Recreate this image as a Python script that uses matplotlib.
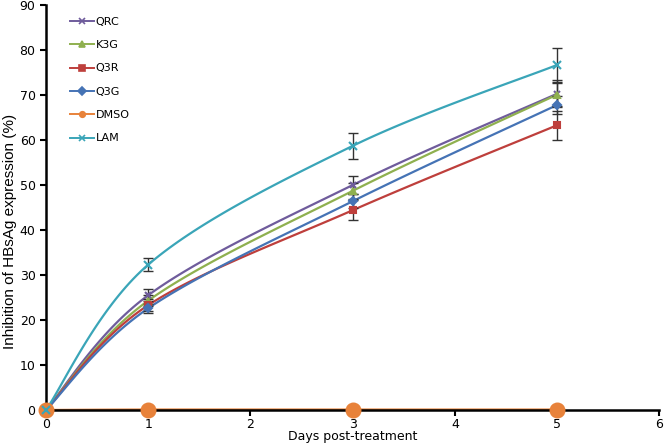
import numpy as np
import matplotlib
matplotlib.use("Agg")
import matplotlib.pyplot as plt

days = [0, 1, 3, 5]
series = ["QRC", "K3G", "Q3R", "Q3G", "DMSO", "LAM"]
values = {
    "QRC":  [0, 25.5, 50.0, 70.3],
    "K3G":  [0, 24.3, 48.7, 70.1],
    "Q3R":  [0, 23.3, 44.4, 63.3],
    "Q3G":  [0, 22.6, 46.4, 67.8],
    "DMSO": [0, 0.1, 0.1, 0.1],
    "LAM":  [0, 32.3, 58.7, 76.7],
}
errors = {
    "QRC":  [0, 1.3, 2.0, 3.0],
    "K3G":  [0, 1.2, 1.8, 2.5],
    "Q3R":  [0, 1.3, 2.2, 3.2],
    "Q3G":  [0, 1.0, 1.6, 2.0],
    "DMSO": [0, 0, 0, 0],
    "LAM":  [0, 1.5, 2.8, 3.8],
}
colors = {"QRC": "#6f5c9c", "K3G": "#8fb04f", "Q3R": "#be3f3c", "Q3G": "#4573b5",
          "DMSO": "#e8823a", "LAM": "#3aa5b8"}
markers = {"QRC": "x", "K3G": "^", "Q3R": "s", "Q3G": "D", "DMSO": "o", "LAM": "x"}
msizes = {"QRC": 5, "K3G": 5, "Q3R": 5, "Q3G": 4, "DMSO": 10, "LAM": 6}


def smooth(x, y, n=40):
    x = np.asarray(x, float); y = np.asarray(y, float)
    px = np.concatenate([[x[0]], x, [x[-1]]])
    py = np.concatenate([[y[0]], y, [y[-1]]])
    xs, ys = [], []
    t = np.linspace(0, 1, n)
    for i in range(1, len(px) - 2):
        p0 = np.array([px[i], py[i]]); p3 = np.array([px[i + 1], py[i + 1]])
        c1 = p0 + (np.array([px[i + 1], py[i + 1]]) - np.array([px[i - 1], py[i - 1]])) / 6
        c2 = p3 - (np.array([px[i + 2], py[i + 2]]) - np.array([px[i], py[i]])) / 6
        b = ((1 - t) ** 3)[:, None] * p0 + (3 * (1 - t) ** 2 * t)[:, None] * c1 \
            + (3 * (1 - t) * t ** 2)[:, None] * c2 + (t ** 3)[:, None] * p3
        xs.extend(b[:, 0]); ys.extend(b[:, 1])
    return np.array(xs), np.array(ys)


fig = plt.figure(figsize=(6.66, 4.43), dpi=100)
ax = fig.add_axes([0.069, 0.0745, 0.921, 0.914])

for s in series:
    c = colors[s]
    sx, sy = smooth(days, values[s])
    ax.plot(sx, sy, color=c, lw=1.6, zorder=2, clip_on=False)
    if s != "DMSO":
        ax.errorbar(days[1:], values[s][1:], yerr=errors[s][1:], fmt="none",
                    ecolor="#333333", elinewidth=1.0, capsize=3.5, capthick=1.0, zorder=3)
    ax.plot(days, values[s], linestyle="none", marker=markers[s], ms=msizes[s],
            color=c, mec=c, mew=1.5, zorder=4, clip_on=False)
    ax.plot([], [], color=c, lw=1.4, marker=markers[s], ms=4, mew=1.2, label=s)

ax.set_xlim(0, 6)
ax.set_ylim(0, 90)
ax.set_xticks(range(0, 7))
ax.set_yticks(range(0, 91, 10))
for sp in ["top", "right"]:
    ax.spines[sp].set_visible(False)
for sp in ["left", "bottom"]:
    ax.spines[sp].set_linewidth(1.8)
ax.tick_params(axis="both", direction="out", length=4, width=1.5, labelsize=9,
               colors="black")
ax.tick_params(axis="x", pad=2)
ax.set_xlabel("Days post-treatment", fontsize=9)
ax.xaxis.set_label_coords(0.5, -0.05)
ax.set_ylabel("Inhibition of HBsAg expression (%)", fontsize=11,
              family=["Liberation Sans", "DejaVu Sans"])
ax.yaxis.set_label_coords(-0.047, 0.44)

leg = ax.legend(loc="upper left", bbox_to_anchor=(0.0315, 0.982), borderaxespad=0,
                frameon=False, fontsize=8, handlelength=2.2, handletextpad=0.15,
                labelspacing=1.2)

fig.savefig("out.png", dpi=100)
